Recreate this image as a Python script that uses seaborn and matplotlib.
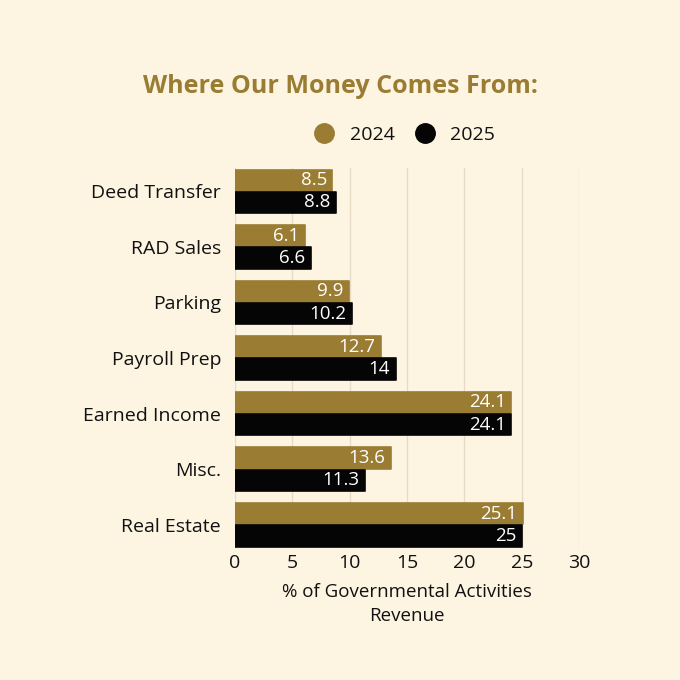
import pandas as pd
import matplotlib.pyplot as plt
import seaborn as sns
from matplotlib.lines import Line2D

categories = ['Deed Transfer', 'RAD Sales', 'Parking', 'Payroll Prep',
              'Earned Income', 'Misc.', 'Real Estate']
vals_2024 = [8.5, 6.1, 9.9, 12.7, 24.1, 13.6, 25.1]
vals_2025 = [8.8, 6.6, 10.2, 14, 24.1, 11.3, 25]
years = ['2024', '2025']

bg = '#FDF5E2'
gold = '#9A7D33'
black = '#050505'

df = pd.DataFrame({
    'category': categories * 2,
    'value': vals_2024 + vals_2025,
    'year': [years[0]] * len(categories) + [years[1]] * len(categories),
})

sns.set_theme(style='white')
plt.rcParams['font.family'] = ['Open Sans', 'DejaVu Sans']

fig = plt.figure(figsize=(6.8, 6.8), dpi=100, facecolor=bg)
ax = fig.add_axes([0.3456, 0.194, 0.506, 0.559], facecolor=bg)

sns.barplot(data=df, x='value', y='category', hue='year', order=categories,
            palette={'2024': gold, '2025': black}, width=0.8, gap=0.04,
            saturation=1, orient='h', ax=ax, legend=False, zorder=3)

# slightly rounded corners
for p in ax.patches:
    p.set_edgecolor(p.get_facecolor())
    p.set_linewidth(1.2)
    p.set_joinstyle('round')

for cont in ax.containers:
    texts = ax.bar_label(cont, labels=[f'{v:g}' for v in cont.datavalues],
                         padding=-4, color='white', fontsize=13.5, zorder=4)
    for t in texts:
        t.set_ha('right')

ax.set_xlim(0, 30)
ax.set_ylim(6.42, -0.42)
ax.set_xticks(range(0, 31, 5))
ax.xaxis.grid(True, color='#E6DCC6', linewidth=1, zorder=0)
ax.set_axisbelow(True)
for s in ax.spines.values():
    s.set_visible(False)
ax.tick_params(axis='both', length=0, labelsize=14, colors='#111111')
ax.tick_params(axis='x', pad=4)
ax.tick_params(axis='y', pad=10)
ax.set_ylabel('')
ax.set_xlabel('% of Governmental Activities\nRevenue', fontsize=13.5,
              color='#111111', labelpad=8, linespacing=1.45)

fig.text(0.5, 0.873, 'Where Our Money Comes From:', ha='center', va='center',
         fontsize=18, fontweight='bold', color=gold)

handles = [Line2D([], [], marker='o', linestyle='', markersize=14, color=c)
           for c in (gold, black)]
leg = fig.legend(handles, years, loc='center', bbox_to_anchor=(0.588, 0.802),
                 ncol=2, frameon=False, fontsize=14, handletextpad=0.3,
                 columnspacing=0.55)
for t in leg.get_texts():
    t.set_color('#111111')

fig.savefig('out.png', dpi=100, facecolor=bg)
